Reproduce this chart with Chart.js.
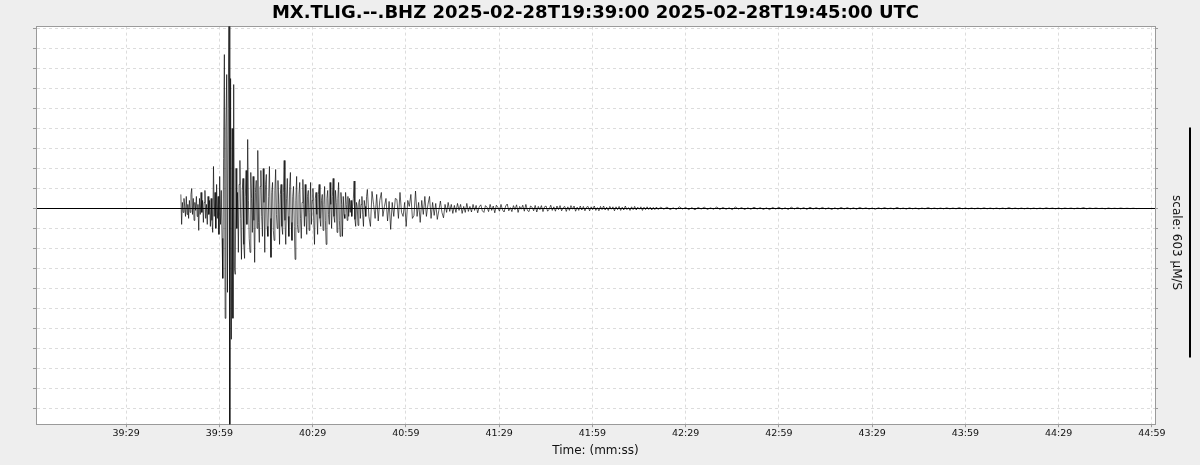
<!DOCTYPE html>
<html>
<head>
<meta charset="utf-8">
<script src="https://cdn.jsdelivr.net/npm/chart.js@4/dist/chart.umd.min.js"></script>
<style>
  body { margin: 0; background: #eeeeee; }
  canvas { display: block; }
</style>
</head>
<body>
<canvas id="myChart" width="1200" height="465"></canvas>
<script>
let station = 'MX.TLIG.--.BHZ';
let startTime = '2025-02-28T19:39:00';
let endTime = '2025-02-28T19:45:00';
let scaleAmp = 603;

// seconds after 19:39:00
let xTickSeconds = [29, 59, 89, 119, 149, 179, 209, 239, 269, 299, 329, 359];
let xTickLabels = ['39:29', '39:59', '40:29', '40:59', '41:29', '41:59', '42:29', '42:59', '43:29', '43:59', '44:29', '44:59'];

// amplitude in grid units (one dashed line = 1)
let yMin = -10.8;
let yMax = 9.1;

// onset + strong motion, 0.25 s per sample
let startA = 46.6, stepA = 0.25;
let waveA = [
  0.7, -0.8, 0.3, -0.2, 0.5, 0.1, -0.4, 0.6, -0.3, 0.2,
  -0.5, 0.4, -0.2, 0.7, 1.0, -0.3, 0.5, -0.6, 0.3, -0.1,
  0.6, -0.4, 0.2, -1.1, 0.5, -0.3, 0.8, -0.2, 0.4, -0.7,
  0.3, 0.9, -0.5, 0.2, -0.8, 0.6, -0.3, 0.4, -0.9, 0.5,
  -0.6, -1.2, 2.1, -0.4, 0.8, -1.0, 1.2, -0.5, 0.6, -1.3,
  1.6, -0.8, 0.9, -1.5, -3.5, 2.5, 7.7, -5.5, 4.0, 6.7,
  -4.2, 5.0, 11, -12, 6.5, -6.55, 4.0, -5.5, 6.2, -3.0,
  -3.3, 2.0, -1.0, 0.8, -2.2, 1.2, 2.4, -0.5, -2.55, 0.9,
  1.5, -1.8, -2.5, 0.6, 1.9, -0.8, 3.45, 0.4, -1.5, -2.2,
  1.8, 0.5, -1.2, 1.6, -0.6, -2.7, 0.8, 1.4, -1.0, 2.9,
  -0.7, -1.7, 1.1, 1.9, -0.4, -1.4, 2.0, 0.3, -2.2, 1.2,
  1.7, -0.9, -1.4, 0.6, 2.1, -0.5, -2.45, 0.8, 1.3, -1.1,
  -1.6, 0.9, 1.95, -0.3, -1.0, 1.4, 0.2, -1.8, 0.7, 1.2,
  -0.9, -1.3, 0.8, 2.4, -0.6, -1.8, 0.5, 1.5, -0.4, -1.4,
  1.1, 1.8, -0.7, -1.6, 0.6, 1.1, -0.9, -2.55, 0.4, 1.6,
  -0.8, -1.2, 0.7, 1.3, -0.5, -1.5, 0.3, 1.45, 0.2, -0.9,
  1.2, -0.4, -1.3, 0.6, 0.9, -1.1, -0.2, 1.3, -0.8, 0.4,
  1.0, -0.6, -1.8, 0.5, 0.8, -0.3, -1.3, 0.7, 1.2, -0.5,
  -0.9, 0.4, 0.7, -1.1, 0.2, 1.1, -0.6, -1.8, 0.5, 0.9,
  -0.3, -0.8, 1.3, 0.2, -1.0, 0.6, 1.5, -0.4, -0.7, 0.9,
  0.3, -1.2, 0.5, 1.3, -0.6, -1.4, 0.8, 0.2, -1.4, 0.6,
  -0.3, -0.5, 0.8, 0.2, -0.6, 0.6, -0.4, 0.5, -0.2, 0.4,
  -0.4, 0.1, 0.5, 1.37, -0.55, -0.9, 0.3, 0.1, -0.85, 0.3,
  0.45, -0.5, 0.2, 0.6, -0.3, -0.9, 0.4, 0.1, -0.4, 0.6
];

// decaying coda, 0.5 s per sample
let startB = 106.6, stepB = 0.5;
let waveB = [
  0.95, -0.4, -0.9, 0.85, 0.2, -0.5, 0.7, -0.63, 0.4, 0.8,
  -0.4, 0.1, 0.5, -0.63, 0.35, -1.05, 0.3, -0.4, 0.5, 0.45,
  -0.5, 0.8, -0.2, -0.4, 0.3, -0.9, 0.4, 0.1, 0.7, -0.5,
  -0.35, 0.87, -0.4, 0.3, -0.7, 0.4, -0.3, 0.6, -0.4, 0.2,
  0.6, -0.5, 0.3, -0.35, 0.25, -0.55, -0.1, 0.37, -0.2, -0.47,
  0.2, -0.2, 0.3, -0.15, 0.2, -0.25, 0.15, -0.2, 0.25, -0.1,
  0.2, -0.25, 0.1, -0.2, 0.25, -0.15, 0.1, -0.18, 0.2, -0.1,
  0.15, -0.22, 0.08, 0.18, -0.12, -0.2, 0.14, 0.06, -0.16, 0.2,
  -0.1, 0.12, -0.22, 0.16, 0.05, -0.14, 0.2, -0.08, -0.18, 0.12,
  0.22, -0.12, 0.04, -0.16, 0.14, -0.06, 0.18, -0.2, 0.1, -0.04,
  0.16, -0.14, 0.2, -0.1, -0.16, 0.12, 0.06, -0.12, 0.15, -0.18,
  0.1, -0.06, 0.14, -0.16, 0.08, 0.12, -0.14, -0.04, 0.16, -0.1,
  0.08, -0.14, 0.12, -0.06, 0.14, -0.12, 0.04, 0.1, -0.15, 0.08,
  -0.1, 0.14, -0.04, 0.12, -0.14, 0.06, -0.1, 0.12, -0.08, 0.1,
  -0.12, 0.06, 0.1, -0.12, 0.08, -0.06, 0.12, -0.1, 0.04, -0.12,
  0.1, -0.06, 0.12, -0.08, 0.06, -0.1, 0.1, -0.04, 0.08, -0.12,
  0.08, -0.06, 0.1, -0.1, 0.06, -0.08, 0.12, -0.06, 0.04, -0.1,
  0.08, -0.06, 0.1, -0.08, 0.06, -0.04, 0.08, -0.1, 0.06, -0.06,
  0.08, -0.05, 0.06, -0.08, 0.05, -0.06, 0.07, -0.05
];

// late tail, 1 s per sample
let startC = 201, stepC = 1;
let waveC = [
  0.06, -0.04, 0.07, -0.06, 0.03, -0.05, 0.08, -0.03, 0.05, -0.06,
  0.04, -0.07, 0.05, -0.03, 0.06, -0.05, 0.03, -0.04, 0.07, -0.05,
  0.05, -0.04, 0.03, -0.06, 0.07, -0.03, 0.04, -0.05, 0.03, -0.04,
  0.06, -0.03, 0.04, -0.05, 0.03, -0.06, 0.05, -0.03, 0.06, -0.04,
  0.03, -0.05, 0.06, -0.03, 0.05, -0.03, 0.04, -0.05, 0.06, -0.03,
  0.04, -0.03, 0.05, -0.03, 0.03, -0.05, 0.03, -0.04, 0.05, -0.03,
  0.04, -0.03, 0.03, -0.04, 0.05, -0.02, 0.03, -0.03, 0.02, -0.04,
  0.03, -0.02, 0.04, -0.02, 0.02, -0.03, 0.05, -0.02, 0.02, -0.03,
  0.03, -0.02, 0.02, -0.03, 0.02, -0.02, 0.04, -0.02, 0.02, -0.02,
  0.02, -0.02, 0.03, -0.02, 0.02, -0.02, 0.04, -0.02, 0.02, -0.02,
  0.02, -0.02, 0.02, -0.02, 0.03, -0.02, 0.02, -0.02, 0.02, -0.02,
  0.02, -0.02, 0.04, -0.02, 0.02, -0.02, 0.02, -0.02, 0.02, -0.02,
  0.02, -0.02, 0.02, -0.02, 0.03, -0.01, 0.02, -0.02, 0.02, -0.02,
  0.02, -0.01, 0.02, -0.02, 0.02, -0.01, 0.04, -0.02, 0.02, -0.01,
  0.02, -0.01, 0.01, -0.02, 0.02, -0.01, 0.01, -0.01, 0.02, -0.01,
  0.01, -0.01, 0.01, -0.01, 0
];

let wave = [];
waveA.forEach((v, i) => wave.push({x: startA + i * stepA, y: v}));
waveB.forEach((v, i) => wave.push({x: startB + i * stepB, y: v}));
waveC.forEach((v, i) => wave.push({x: startC + i * stepC, y: v}));

let font = 'DejaVu Sans';
let gridColor = '#dcdcdc';
let frameColor = '#9a9a9a';

let plotBg = {
  id: 'plotBg',
  beforeDraw: (chart) => {
    let a = chart.chartArea;
    chart.ctx.save();
    chart.ctx.fillStyle = '#ffffff';
    chart.ctx.fillRect(a.left, a.top, a.right - a.left, a.bottom - a.top);
    chart.ctx.restore();
  }
};

let scaleBar = {
  id: 'scaleBar',
  afterDraw: (chart) => {
    let ctx = chart.ctx;
    let area = chart.chartArea;
    ctx.save();
    ctx.strokeStyle = '#000';
    ctx.lineWidth = 2;
    ctx.beginPath();
    ctx.moveTo(area.right + 35, area.top + 101);
    ctx.lineTo(area.right + 35, area.top + 331);
    ctx.stroke();
    ctx.translate(area.right + 21, area.top + 216);
    ctx.rotate(Math.PI / 2);
    ctx.fillStyle = '#111';
    ctx.font = '12px "' + font + '"';
    ctx.textAlign = 'center';
    ctx.textBaseline = 'middle';
    ctx.fillText('scale: ' + scaleAmp + ' \u00b5M/S', 0, 0);
    ctx.restore();
  }
};

let chart = new Chart(document.getElementById('myChart').getContext('2d'), {
  type: 'line',
  data: {
    datasets: [{
      data: wave,
      borderColor: 'rgba(0,0,0,0.8)',
      borderWidth: 0.8,
      pointRadius: 0,
      tension: 0,
      fill: false
    }]
  },
  options: {
    responsive: false,
    animation: false,
    devicePixelRatio: 1,
    parsing: false,
    layout: { padding: { left: 33, right: 42, top: 0, bottom: 0 } },
    plugins: {
      legend: { display: false },
      tooltip: { enabled: false },
      title: {
        display: true,
        text: station + ' ' + startTime + ' ' + endTime + ' UTC',
        color: '#000',
        font: { family: font, size: 18, weight: 'bold' },
        padding: { top: 3, bottom: 2 }
      }
    },
    scales: {
      x: {
        type: 'linear',
        position: 'bottom',
        min: 0,
        max: 360,
        afterBuildTicks: (axis) => { axis.ticks = xTickSeconds.map(v => ({value: v})); },
        ticks: {
          autoSkip: false,
          maxRotation: 0,
          padding: 1,
          color: '#111',
          font: { family: font, size: 9.5 },
          callback: (v) => xTickLabels[xTickSeconds.indexOf(v)]
        },
        grid: { color: gridColor, tickColor: frameColor, tickLength: 3 },
        border: { color: frameColor, dash: (c) => c.tick ? [3, 3] : [] },
        title: {
          display: true,
          text: 'Time: (mm:ss)',
          color: '#111',
          font: { family: font, size: 12 },
          padding: { top: 3, bottom: 7 }
        }
      },
      xTop: {
        type: 'linear',
        position: 'top',
        min: 0,
        max: 360,
        ticks: { display: false },
        grid: { drawOnChartArea: false, drawTicks: false },
        border: { color: frameColor }
      },
      y: {
        position: 'left',
        min: yMin,
        max: yMax,
        ticks: { display: false, stepSize: 1, includeBounds: false },
        grid: {
          color: (c) => c.tick && c.tick.value === 0 ? '#000' : gridColor,
          tickColor: frameColor,
          tickLength: 3
        },
        border: { color: frameColor, dash: (c) => c.tick && c.tick.value !== 0 ? [3, 3] : [] }
      },
      yRight: {
        position: 'right',
        min: yMin,
        max: yMax,
        ticks: { display: false, stepSize: 1, includeBounds: false },
        grid: { drawOnChartArea: false, tickColor: frameColor, tickLength: 3 },
        border: { color: frameColor }
      }
    }
  },
  plugins: [plotBg, scaleBar]
});
</script>
</body>
</html>
